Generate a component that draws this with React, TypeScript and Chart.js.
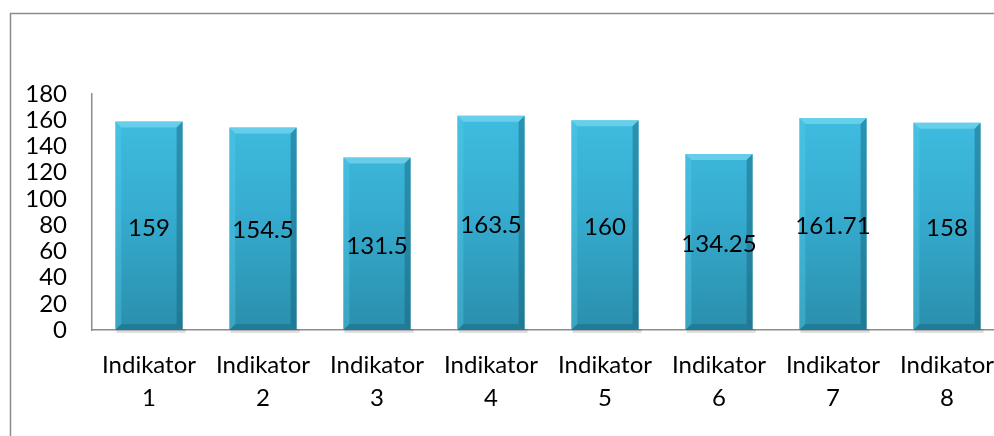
import React, { useEffect, useRef } from "react";
import { Chart, registerables } from "chart.js";

Chart.register(...registerables);

const categories: string[][] = [
  ["Indikator", "1"],
  ["Indikator", "2"],
  ["Indikator", "3"],
  ["Indikator", "4"],
  ["Indikator", "5"],
  ["Indikator", "6"],
  ["Indikator", "7"],
  ["Indikator", "8"],
];
const values: number[] = [159, 154.5, 131.5, 163.5, 160, 134.25, 161.71, 158];
const valueLabels: string[] = ["159", "154.5", "131.5", "163.5", "160", "134.25", "161.71", "158"];

const FONT = "Lato, 'Open Sans', 'Liberation Sans', sans-serif";

const W = 1020;
const H = 450;

const framePlugin = {
  id: "frame",
  beforeDraw(chart: any) {
    const ctx = chart.ctx;
    ctx.save();
    ctx.fillStyle = "#ffffff";
    ctx.fillRect(0, 0, chart.width, chart.height);
    ctx.strokeStyle = "#8c8c8c";
    ctx.lineWidth = 1.5;
    ctx.beginPath();
    ctx.moveTo(10.5, H + 10);
    ctx.lineTo(10.5, 13.5);
    ctx.lineTo(W + 10, 13.5);
    ctx.stroke();
    ctx.restore();
  },
};

const bevelPlugin = {
  id: "bevel",
  beforeDatasetsDraw(chart: any) {
    const ctx = chart.ctx;
    const meta = chart.getDatasetMeta(0);
    ctx.save();
    meta.data.forEach((el: any) => {
      const l = el.x - el.width / 2;
      ctx.fillStyle = "rgba(0,0,0,0.12)";
      ctx.fillRect(l + 1, el.base - 1, el.width + 2, 4);
    });
    ctx.restore();
  },
  afterDatasetsDraw(chart: any) {
    const ctx = chart.ctx;
    const meta = chart.getDatasetMeta(0);
    ctx.save();
    meta.data.forEach((el: any, i: number) => {
      const l = el.x - el.width / 2;
      const r = el.x + el.width / 2;
      const t = el.y;
      const b = el.base;
      const s = 6;
      ctx.fillStyle = "rgba(120,215,240,0.7)";
      ctx.beginPath();
      ctx.moveTo(l, t);
      ctx.lineTo(r, t);
      ctx.lineTo(r - s, t + s);
      ctx.lineTo(l + s, t + s);
      ctx.closePath();
      ctx.fill();
      ctx.fillStyle = "rgba(90,205,235,0.35)";
      ctx.beginPath();
      ctx.moveTo(l, t);
      ctx.lineTo(l + s, t + s);
      ctx.lineTo(l + s, b - s);
      ctx.lineTo(l, b);
      ctx.closePath();
      ctx.fill();
      ctx.fillStyle = "rgba(20,95,120,0.45)";
      ctx.beginPath();
      ctx.moveTo(r, t);
      ctx.lineTo(r - s, t + s);
      ctx.lineTo(r - s, b - s);
      ctx.lineTo(r, b);
      ctx.closePath();
      ctx.fill();
      ctx.fillStyle = "rgba(20,95,120,0.4)";
      ctx.beginPath();
      ctx.moveTo(l, b);
      ctx.lineTo(l + s, b - s);
      ctx.lineTo(r - s, b - s);
      ctx.lineTo(r, b);
      ctx.closePath();
      ctx.fill();
      ctx.fillStyle = "#000000";
      ctx.font = `24px ${FONT}`;
      ctx.textAlign = "center";
      ctx.textBaseline = "middle";
      ctx.fillText(valueLabels[i], el.x, (t + b) / 2 + 2);
    });
    ctx.restore();
  },
};

export default function App() {
  const ref = useRef<HTMLCanvasElement | null>(null);
  useEffect(() => {
    const canvas = ref.current!;
    const ctx = canvas.getContext("2d")!;
    const grad = ctx.createLinearGradient(0, 94, 0, 330);
    grad.addColorStop(0, "#40c0e3");
    grad.addColorStop(0.5, "#36acd0");
    grad.addColorStop(1, "#2a8fac");
    const chart = new Chart(canvas, {
      type: "bar",
      data: {
        labels: categories,
        datasets: [
          {
            data: values,
            backgroundColor: grad,
            borderWidth: 0,
            categoryPercentage: 0.59,
            barPercentage: 1,
          },
        ],
      },
      options: {
        responsive: false,
        animation: false,
        devicePixelRatio: 1,
        layout: { padding: { top: 94, right: 16, left: 0, bottom: 0 } },
        plugins: {
          legend: { display: false },
          tooltip: { enabled: false },
        },
        scales: {
          x: {
            grid: { display: false, drawTicks: false },
            border: { color: "#8c8c8c", width: 1.5 },
            ticks: {
              color: "#000000",
              font: { family: FONT, size: 24, lineHeight: 1.4 },
              padding: 18,
              maxRotation: 0,
              autoSkip: false,
            },
            afterFit: (scale: any) => {
              scale.height = H - 330;
            },
          },
          y: {
            min: 0,
            max: 180,
            grid: { display: false, drawTicks: false },
            border: { color: "#8c8c8c", width: 1.5 },
            ticks: {
              stepSize: 20,
              autoSkip: false,
              color: "#000000",
              font: { family: FONT, size: 24, lineHeight: 1 },
              padding: 25,
            },
            afterFit: (scale: any) => {
              scale.width = 92;
            },
          },
        },
      },
      plugins: [framePlugin, bevelPlugin],
    });
    return () => chart.destroy();
  }, []);
  return (
    <div
      style={{
        position: "fixed",
        left: 0,
        top: 0,
        width: 994,
        height: 436,
        overflow: "hidden",
        background: "#fff",
      }}
    >
      <canvas ref={ref} width={W} height={H} style={{ display: "block", width: W, height: H }} />
    </div>
  );
}
